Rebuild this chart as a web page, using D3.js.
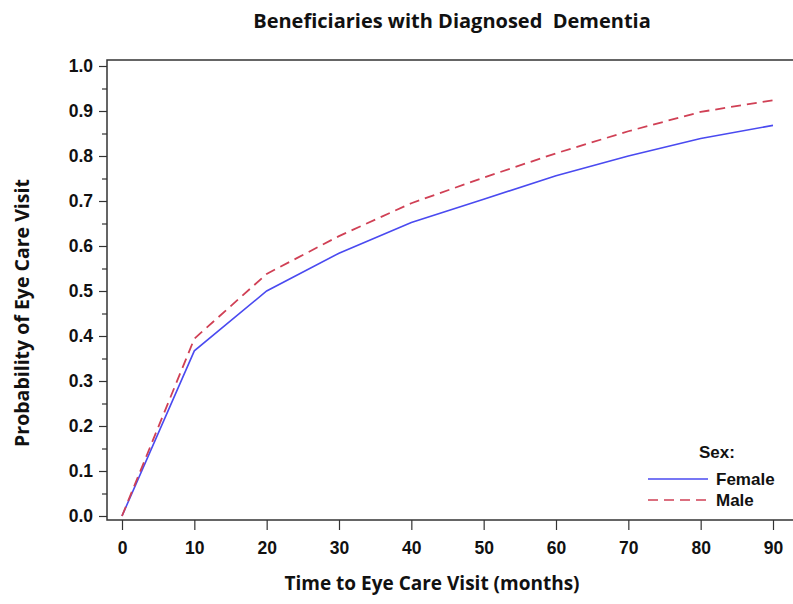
<!DOCTYPE html>
<html><head><meta charset="utf-8">
<script src="https://cdn.jsdelivr.net/npm/d3@7"></script>
<style>body{margin:0;background:#fff}</style>
</head><body>
<svg id="c" width="793" height="604"></svg>
<script>
const months = [0,10,20,30,40,50,60,70,80,90];
const female = [0,0.367,0.500,0.584,0.652,0.704,0.756,0.800,0.839,0.868];
const male   = [0,0.394,0.538,0.622,0.695,0.752,0.806,0.855,0.898,0.924];
const xTicks = [0,10,20,30,40,50,60,70,80,90];
const yTicks = [0,0.1,0.2,0.3,0.4,0.5,0.6,0.7,0.8,0.9,1.0];
const yMinor = [0.05,0.15,0.25,0.35,0.45,0.55,0.65,0.75,0.85,0.95];
const titleText = "Beneficiaries with Diagnosed  Dementia";
const xLabel = "Time to Eye Care Visit (months)";
const yLabel = "Probability of Eye Care Visit";
const legendTitle = "Sex:";
const seriesNames = ["Female","Male"];

const svg = d3.select("#c");
const frame = {left:107, top:60, right:800, bottom:520};
const x = d3.scaleLinear().domain([0,90]).range([122,773]);
const y = d3.scaleLinear().domain([0,1]).range([516,66]);

const tickFont = "'Liberation Sans', Arial, sans-serif";
const labFont = "'Open Sans', 'Noto Sans', sans-serif";

svg.append("rect").attr("x",frame.left).attr("y",frame.top)
  .attr("width",frame.right-frame.left).attr("height",frame.bottom-frame.top)
  .attr("fill","none").attr("stroke","#333").attr("stroke-width",1.5);

const yAx = svg.append("g").attr("transform",`translate(${frame.left},0)`)
  .call(d3.axisLeft(y).tickValues(yTicks).tickFormat(d3.format(".1f")).tickSize(8).tickPadding(6));
yAx.select(".domain").remove();
yAx.selectAll("line").attr("stroke","#333").attr("stroke-width",1.2);
yAx.selectAll("text").attr("font-family",tickFont).attr("font-weight","bold").attr("font-size",17.5).attr("fill","#111");
const yAxMin = svg.append("g").attr("transform",`translate(${frame.left},0)`)
  .call(d3.axisLeft(y).tickValues(yMinor).tickFormat("").tickSize(5));
yAxMin.select(".domain").remove();
yAxMin.selectAll("line").attr("stroke","#333").attr("stroke-width",1.2);

const xAx = svg.append("g").attr("transform",`translate(0,${frame.bottom})`)
  .call(d3.axisBottom(x).tickValues(xTicks).tickFormat(d3.format("d")).tickSize(10).tickPadding(12));
xAx.select(".domain").remove();
xAx.selectAll("line").attr("stroke","#333").attr("stroke-width",1.2);
xAx.selectAll("text").attr("font-family",tickFont).attr("font-weight","bold").attr("font-size",17.5).attr("fill","#111");

const line = d3.line().x((d,i)=>x(months[i])).y(d=>y(d));
svg.append("path").datum(female).attr("d",line).attr("fill","none")
  .attr("stroke","#4a4af0").attr("stroke-width",1.6);
svg.append("path").datum(male).attr("d",line).attr("fill","none")
  .attr("stroke","#d04055").attr("stroke-width",1.8).attr("stroke-dasharray","10,6");

svg.append("text").attr("x",452).attr("y",28).attr("text-anchor","middle")
  .attr("font-family",labFont).attr("font-weight","bold").attr("font-size",20).attr("fill","#111")
  .style("white-space","pre").attr("xml:space","preserve").text(titleText);
svg.append("text").attr("x",432).attr("y",590).attr("text-anchor","middle")
  .attr("font-family",labFont).attr("font-weight","bold").attr("font-size",19).attr("fill","#111").text(xLabel);
svg.append("text").attr("transform","translate(29,313) rotate(-90)").attr("text-anchor","middle")
  .attr("font-family",labFont).attr("font-weight","bold").attr("font-size",19.5).attr("fill","#111").text(yLabel);

const lg = svg.append("g");
lg.append("text").attr("x",717).attr("y",458).attr("text-anchor","middle")
  .attr("font-family",tickFont).attr("font-weight","bold").attr("font-size",17).attr("fill","#111").text(legendTitle);
const colors = ["#4a4af0","#d04055"];
const dashes = [null,"10,6"];
seriesNames.forEach((n,i)=>{
  const yy = 479 + i*21;
  lg.append("line").attr("x1",648).attr("x2",708).attr("y1",yy).attr("y2",yy)
    .attr("stroke",colors[i]).attr("stroke-width",1.6).attr("stroke-dasharray",dashes[i]);
  lg.append("text").attr("x",716).attr("y",yy+6)
    .attr("font-family",tickFont).attr("font-weight","bold").attr("font-size",17).attr("fill","#111").text(n);
});
</script>
</body></html>
